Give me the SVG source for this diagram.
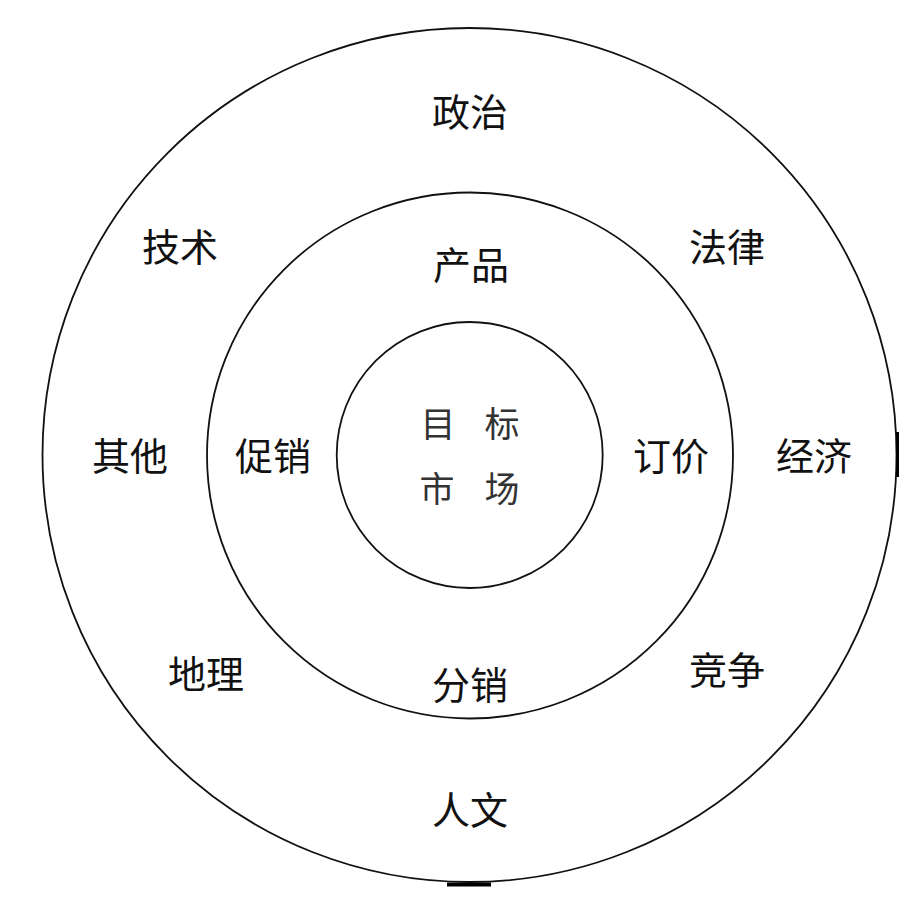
<svg xmlns="http://www.w3.org/2000/svg" width="920" height="898" viewBox="0 0 920 898">
<style>
.ring{fill:none;stroke:#111;stroke-width:1.8}
.lbl{font-family:"Noto Sans CJK SC","Noto Sans CJK TC",sans-serif;font-size:38px;fill:#111;text-anchor:middle;dominant-baseline:central}
.core{font-family:"Noto Sans CJK SC","Noto Sans CJK TC",sans-serif;font-size:35px;fill:#333;text-anchor:middle;dominant-baseline:central}
</style>
<rect width="920" height="898" fill="#fff"/>
<g id="outer">
<circle class="ring" cx="469.5" cy="455" r="427"/>
<path d="M447 884.5 L491 884.5" stroke="#000" stroke-width="4"/>
<path d="M897.5 432 L897.5 477" stroke="#000" stroke-width="3"/>
<text class="lbl" x="470" y="109">政治</text>
<text class="lbl" x="180" y="244">技术</text>
<text class="lbl" x="727" y="244">法律</text>
<text class="lbl" x="130" y="453">其他</text>
<text class="lbl" x="814" y="453">经济</text>
<text class="lbl" x="206" y="671">地理</text>
<text class="lbl" x="727" y="667">竞争</text>
<text class="lbl" x="470" y="807">人文</text>
</g>
<g id="middle">
<circle class="ring" cx="470" cy="455.5" r="263"/>
<text class="lbl" x="471" y="262">产品</text>
<text class="lbl" x="273" y="453">促销</text>
<text class="lbl" x="671" y="453">订价</text>
<text class="lbl" x="470" y="682">分销</text>
</g>
<g id="inner">
<circle class="ring" cx="469.7" cy="455" r="133"/>
<text class="core" x="438" y="421">目</text>
<text class="core" x="502" y="421">标</text>
<text class="core" x="437" y="486">市</text>
<text class="core" x="502" y="486">场</text>
</g>
<g id="connectors"></g>
</svg>
